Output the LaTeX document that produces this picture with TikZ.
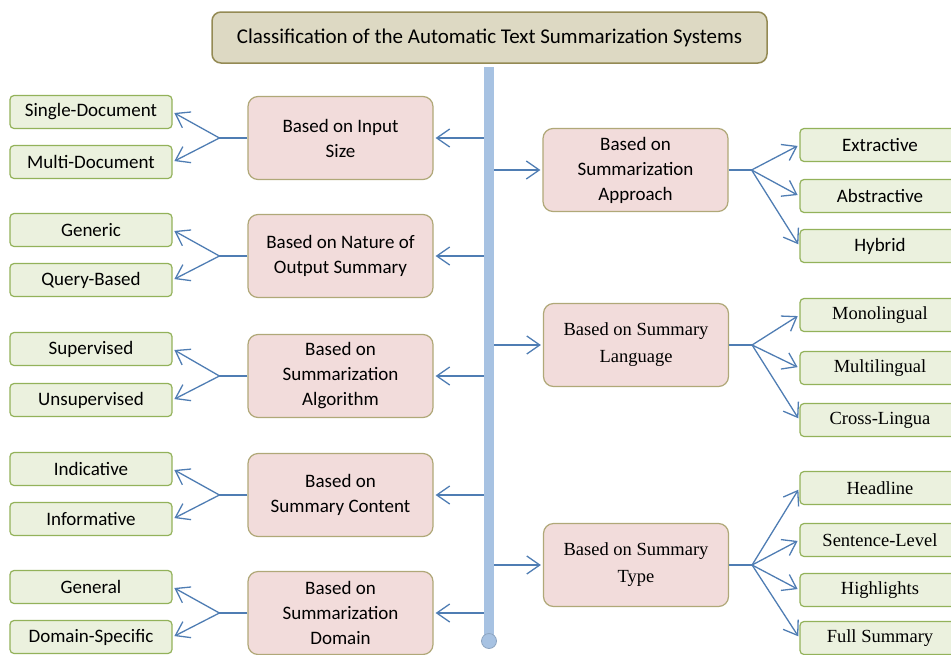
\documentclass[tikz,border=0pt]{standalone}
\usepackage{fontspec}
\setmainfont{Carlito}
\newfontfamily\timesfont{Liberation Serif}
\usetikzlibrary{arrows.meta}

\begin{document}
\begin{tikzpicture}[x=1pt,y=-1pt,
  catnode/.style={draw=catline,fill=catfill,rounded corners=10pt,line width=1.2pt,
    minimum width=185pt,minimum height=83pt,align=center,font=\fontsize{19}{25}\selectfont},
  leafnode/.style={draw=leafline,fill=leaffill,rounded corners=4pt,line width=1.2pt,
    minimum width=162pt,minimum height=33pt,font=\fontsize{19}{21}\selectfont},
  rleaf/.style={leafnode,minimum width=160pt},
  serif/.style={font=\timesfont\fontsize{18.5}{27}\selectfont},
  link/.style={draw=linkblue,line width=1.3pt,-{Straight Barb[length=13pt,width=18pt]},shorten >=2pt}]
\definecolor{catfill}{HTML}{F2DCDB}
\definecolor{catline}{HTML}{B0A878}
\definecolor{leaffill}{HTML}{EBF1DE}
\definecolor{leafline}{HTML}{93B25A}
\definecolor{linkblue}{HTML}{4F7DB3}
\definecolor{barblue}{HTML}{A7C2E2}
\definecolor{titlefill}{HTML}{DDD9C3}
\definecolor{titleline}{HTML}{948A54}
\useasboundingbox (0,0) rectangle (951,654);

\node [draw=titleline,fill=titlefill,line width=1.5pt,rounded corners=9pt,
  minimum width=555pt,minimum height=51pt,font=\fontsize{21}{24}\selectfont]
  (title) at (489.5,37.5) {Classification of the Automatic Text Summarization Systems};
\node [fill=barblue,minimum width=10pt,minimum height=572pt,inner sep=0pt,anchor=north]
  (bar) at (489,67) {};
\node [circle,fill=barblue,draw=barblue!85!black,line width=0.8pt,minimum size=15pt,inner sep=0pt]
  (barend) at (489,641) {};

% left side
\foreach \nm/\yy/\txt/\ca/\cb/\ya/\yb in {
  input/138/{Based on Input\\Size}/Single-Document/Multi-Document/112/162,
  nature/256/{Based on Nature of\\Output Summary}/Generic/Query-Based/230/280,
  algo/376/{Based on\\Summarization\\Algorithm}/Supervised/Unsupervised/349/400,
  content/495/{Based on\\Summary Content}/Indicative/Informative/469/519,
  domain/613/{Based on\\Summarization\\Domain}/General/Domain-Specific/587/637}
{ \node [catnode] (\nm) at (340.5,\yy) {\txt};
  \node [leafnode] (\nm-a) at (91,\ya) {\ca};
  \node [leafnode] (\nm-b) at (91,\yb) {\cb};
  \draw [link] (bar.west |- \nm) -- (\nm);
  \draw [linkblue,line width=1.3pt] (\nm.west) -- ++(-28,0) coordinate (\nm-f);
  \draw [link] (\nm-f) -- (\nm-a.east);
  \draw [link] (\nm-f) -- (\nm-b.east);}

% right side
\node [catnode] (approach) at (635.5,170) {Based on\\Summarization\\Approach};
\node [catnode,serif] (language) at (636,345) {Based on Summary\\Language};
\node [catnode,serif] (type) at (636,565) {Based on Summary\\Type};

\foreach \nm/\yy/\txt in {extr/145/Extractive,abstr/196/Abstractive,hybr/246/Hybrid}
{ \node [rleaf] (\nm) at (880,\yy) {\txt}; }
\foreach \nm/\yy/\txt in {mono/315/Monolingual,multi/368/Multilingual,cross/420/Cross-Lingua,
  head/488/Headline,sent/540/Sentence-Level,high/590/Highlights,full/638/Full Summary}
{ \node [rleaf,serif] (\nm) at (880,\yy) {\txt}; }

\foreach \cat in {approach,language,type}
{ \draw [link] (bar.east |- \cat) -- (\cat);
  \draw [linkblue,line width=1.3pt] (\cat.east) -- ++(23,0) coordinate (\cat-f); }

\foreach \cat/\lf in {approach/extr,approach/abstr,approach/hybr,language/mono,
  language/multi,language/cross,type/head,type/sent,type/high,type/full}
{ \draw [link] (\cat-f) -- (\lf.west); }
\end{tikzpicture}
\end{document}
